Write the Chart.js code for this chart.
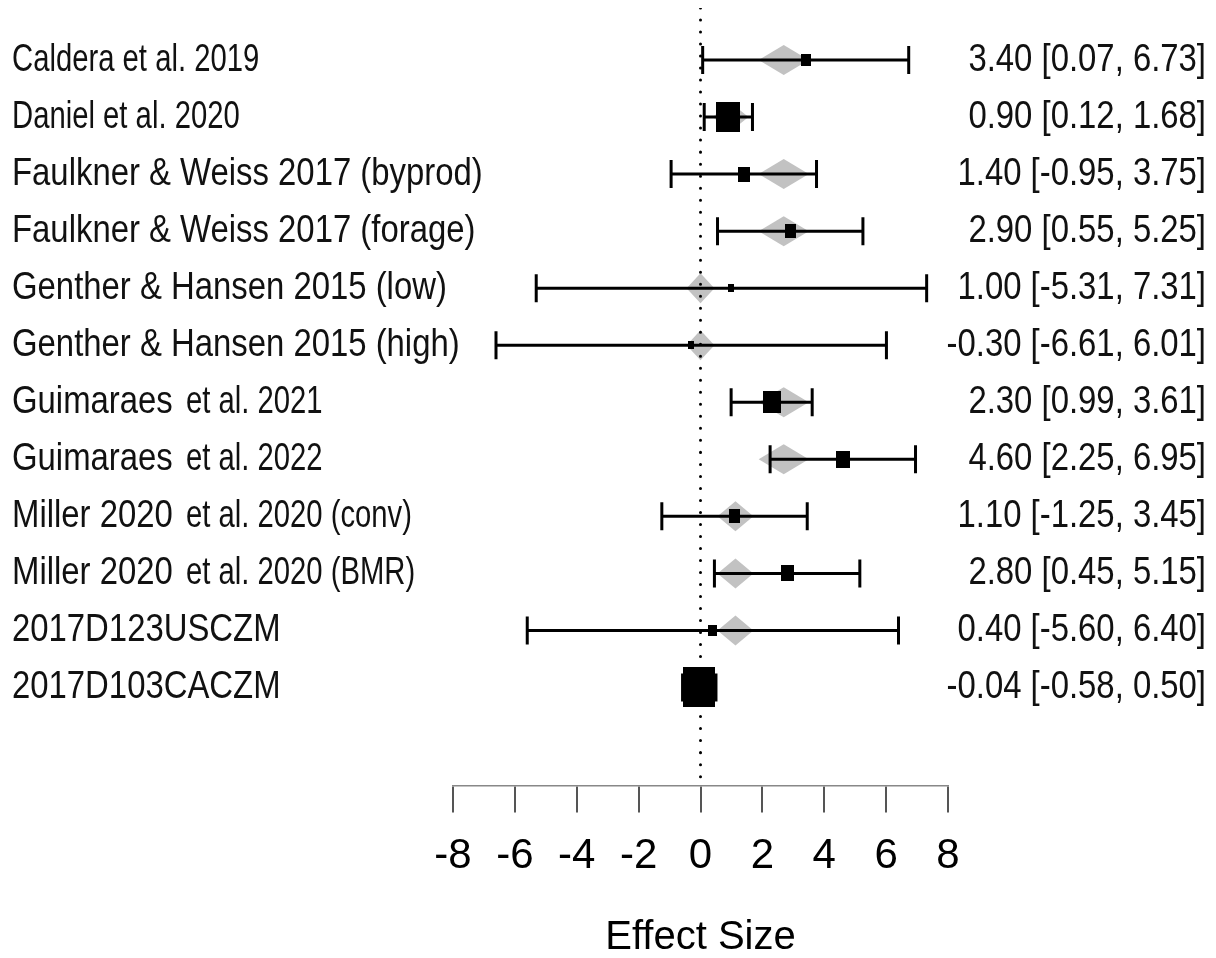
<!DOCTYPE html>
<html>
<head>
<meta charset="utf-8">
<script src="https://cdn.jsdelivr.net/npm/chart.js@4.4.0/dist/chart.umd.min.js"></script>
<style>
  html, body { margin: 0; padding: 0; background: #fff; }
  #wrap { width: 1216px; height: 958px; }
</style>
</head>
<body>
<div id="wrap"><canvas id="forest" width="1216" height="958"></canvas></div>
<script>
// ---- study data -------------------------------------------------------
const studies = [
  'Caldera et al. 2019',
  'Daniel et al. 2020',
  'Faulkner & Weiss 2017 (byprod)',
  'Faulkner & Weiss 2017 (forage)',
  'Genther & Hansen 2015 (low)',
  'Genther & Hansen 2015 (high)',
  'Guimaraes et al. 2021',
  'Guimaraes et al. 2022',
  'Miller 2020 et al. 2020 (conv)',
  'Miller 2020 et al. 2020 (BMR)',
  '2017D123USCZM',
  '2017D103CACZM'
];
// character index where the condensed part of a label begins (-1 = none)
const narrowFrom = [0, 0, -1, -1, -1, -1, 10, 10, 12, 12, -1, -1];

const estimate = [3.40, 0.90, 1.40, 2.90, 1.00, -0.30, 2.30, 4.60, 1.10, 2.80, 0.40, -0.04];
const ciLower  = [0.07, 0.12, -0.95, 0.55, -5.31, -6.61, 0.99, 2.25, -1.25, 0.45, -5.60, -0.58];
const ciUpper  = [6.73, 1.68, 3.75, 5.25, 7.31, 6.01, 3.61, 6.95, 3.45, 5.15, 6.40, 0.50];
// study weights (%) -> box size
const weights  = [3.2, 19.9, 5.0, 4.3, 1.3, 1.3, 10.7, 6.4, 4.3, 5.7, 2.7, 35.3];

// fitted values with their intervals (grey diamonds)
const fitted      = [2.69, 0.95, 2.69, 2.69, 0.00, 0.00, 2.69, 2.69, 1.13, 1.13, 1.13, -0.04];
const fittedLower = [1.88, 0.40, 1.88, 1.88, -0.45, -0.45, 1.88, 1.88, 0.55, 0.55, 0.55, -0.40];
const fittedUpper = [3.50, 1.55, 3.50, 3.50, 0.45, 0.45, 3.50, 3.50, 1.71, 1.71, 1.71, 0.35];

const xTicks = [-8, -6, -4, -2, 0, 2, 4, 6, 8];
const refValue = 0;
const axisTitle = 'Effect Size';

// ---- drawing ------------------------------------------------------------
const FONT = "'Liberation Sans', Arial, Helvetica, sans-serif";
const yMin = -0.912, yMax = 12.72;
const rows = studies.map((_, i) => i);

// black boxes, slightly taller than wide
const boxes = weights.map(w => {
  const h = Math.round(6.73 * Math.sqrt(w));
  const wd = Math.max(6, Math.round(h * 0.8));
  const c = document.createElement('canvas');
  c.width = wd; c.height = h;
  const g = c.getContext('2d');
  g.fillStyle = '#000';
  g.fillRect(0, 0, wd, h);
  return c;
});

const fmt = v => v.toFixed(2);

const diamondPlugin = {
  id: 'fittedDiamonds',
  beforeDatasetsDraw(chart) {
    const { ctx, scales: { x, y } } = chart;
    const half = 15;
    ctx.save();
    ctx.fillStyle = '#c2c2c2';
    fitted.forEach((c, i) => {
      const yc = y.getPixelForValue(i);
      ctx.beginPath();
      ctx.moveTo(x.getPixelForValue(fittedLower[i]), yc);
      ctx.lineTo(x.getPixelForValue(c), yc - half);
      ctx.lineTo(x.getPixelForValue(fittedUpper[i]), yc);
      ctx.lineTo(x.getPixelForValue(c), yc + half);
      ctx.closePath();
      ctx.fill();
    });
    ctx.restore();
  }
};

const labelPlugin = {
  id: 'rowLabels',
  afterDraw(chart) {
    const { ctx, scales: { y } } = chart;
    ctx.save();
    ctx.font = `38px ${FONT}`;
    ctx.fillStyle = '#111';
    ctx.textBaseline = 'middle';

    // study names, left column
    ctx.textAlign = 'left';
    studies.forEach((name, i) => {
      const yc = y.getPixelForValue(i);
      const cut = narrowFrom[i] < 0 ? name.length : narrowFrom[i];
      const parts = [[name.slice(0, cut), 0.865], [name.slice(cut), 0.77]];
      let xpos = 12;
      parts.forEach(([txt, sx], k) => {
        if (!txt) return;
        ctx.save();
        ctx.translate(xpos, yc);
        ctx.scale(sx, 1);
        ctx.fillText(txt, 0, 0);
        ctx.restore();
        xpos += ctx.measureText(txt).width * sx + (k === 0 ? 4 : 0);
      });
    });

    // estimate [CI], right column
    ctx.textAlign = 'right';
    estimate.forEach((e, i) => {
      const yc = y.getPixelForValue(i);
      const txt = `${fmt(e)} [${fmt(ciLower[i])}, ${fmt(ciUpper[i])}]`;
      ctx.save();
      ctx.translate(1206, yc);
      ctx.scale(0.865, 1);
      ctx.fillText(txt, 0, 0);
      ctx.restore();
    });
    ctx.restore();
  }
};

const ciLines = rows.map(i => ({
  data: [{ x: ciLower[i], y: i }, { x: ciUpper[i], y: i }],
  showLine: true,
  borderColor: '#000',
  borderWidth: 3,
  pointRadius: 0,
  order: 2
}));

const datasets = [
  {
    // study estimates
    data: estimate.map((e, i) => ({ x: e, y: i })),
    pointStyle: ctx => boxes[ctx.dataIndex],
    pointRadius: 10,
    showLine: false,
    order: 0
  },
  {
    // CI end caps
    data: rows.flatMap(i => [{ x: ciLower[i], y: i }, { x: ciUpper[i], y: i }]),
    pointStyle: 'line',
    pointRotation: 90,
    rotation: 90,
    pointRadius: 14,
    pointBorderWidth: 3,
    pointBorderColor: '#000',
    borderColor: '#000',
    showLine: false,
    order: 1
  },
  ...ciLines,
  {
    // reference line at zero
    data: [{ x: refValue, y: yMin }, { x: refValue, y: yMax }],
    showLine: true,
    borderColor: '#000',
    borderWidth: 3,
    borderDash: [0.01, 12],
    borderCapStyle: 'round',
    pointRadius: 0,
    order: 3
  }
];

new Chart(document.getElementById('forest'), {
  type: 'scatter',
  data: { datasets },
  options: {
    responsive: false,
    animation: false,
    events: [],
    layout: { autoPadding: false, padding: { left: 453, right: 268, top: 8, bottom: 0 } },
    plugins: { legend: { display: false }, tooltip: { enabled: false } },
    scales: {
      x: {
        type: 'linear',
        position: 'bottom',
        min: -8,
        max: 8,
        afterBuildTicks: scale => { scale.ticks = xTicks.map(v => ({ value: v })); },
        ticks: {
          callback: v => String(v),
          color: '#000',
          padding: 19,
          maxRotation: 0,
          autoSkip: false,
          font: { family: FONT, size: 42 }
        },
        grid: {
          drawOnChartArea: false,
          drawTicks: true,
          tickLength: 27,
          color: '#555',
          lineWidth: 2
        },
        border: { display: true, color: '#888', width: 1.5 },
        title: {
          display: true,
          text: axisTitle,
          color: '#000',
          font: { family: FONT, size: 40, lineHeight: 1.0 },
          padding: { top: 17, bottom: 0 }
        }
      },
      y: {
        type: 'linear',
        display: false,
        reverse: true,
        min: yMin,
        max: yMax
      }
    }
  },
  plugins: [diamondPlugin, labelPlugin]
});
</script>
</body>
</html>
